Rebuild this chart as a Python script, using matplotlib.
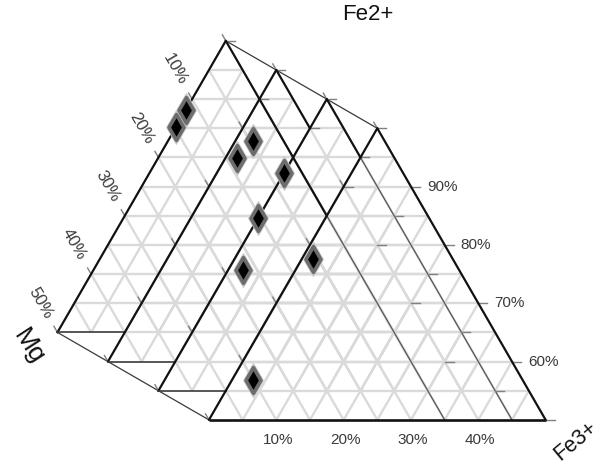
import numpy as np
import matplotlib
matplotlib.use("Agg")
import matplotlib.pyplot as plt
from matplotlib.path import Path

plt.rcParams["font.family"] = ["Liberation Sans", "DejaVu Sans"]

# Axis tick values (percent)
fe2_ticks = [90, 80, 70, 60]
fe3_ticks = [10, 20, 30, 40]
mg_ticks = [10, 20, 30, 40, 50]
n_layers = 4

# Samples: layer index and composition (Fe2+, Mg, Fe3+ in %)
pt_layer = [0, 0, 1, 1, 2, 2, 2, 3, 3]
pt_fe2 = [88.1, 85.2, 87.8, 84.9, 87.3, 79.6, 70.7, 77.6, 56.8]
pt_mg = [11.9, 14.8, 9.6, 13.4, 12.7, 20.4, 27.1, 20.8, 40.0]
pt_fe3 = [0.0, 0.0, 2.6, 1.7, 0.0, 0.0, 2.2, 1.6, 3.2]

# ---- geometry of the stacked ternary planes (pixel-like data units) ----
W, Hpx = 607, 465
FE2_MIN = 50.0                     # lower end of the Fe2+ axis
UNIT = 6.734                       # length of 1 % along a triangle side
SQ = np.sqrt(3) / 2
FRONT_APEX = np.array([377.3, 128.3])
STEP = 5 * UNIT
DEPTH = np.array([1.5 * STEP, SQ * STEP])   # shift between planes


def apex(k):
    return FRONT_APEX - (n_layers - 1 - k) * DEPTH


def tern(k, fe2, mg, fe3):
    ax_, ay_ = apex(k)
    x = ax_ + (np.asarray(fe3, float) - np.asarray(mg, float)) * UNIT / 2
    y = ay_ + (100 - np.asarray(fe2, float)) * UNIT * SQ
    return x, y


def intersect(p1, p2, q1, q2):
    p1, p2, q1, q2 = map(np.asarray, (p1, p2, q1, q2))
    d1, d2 = p2 - p1, q2 - q1
    den = d1[0] * d2[1] - d1[1] * d2[0]
    t = ((q1[0] - p1[0]) * d2[1] - (q1[1] - p1[1]) * d2[0]) / den
    return p1 + t * d1


fig = plt.figure(figsize=(W / 100, Hpx / 100), dpi=100)
ax = fig.add_axes([0, 0, 1, 1])
ax.set_xlim(0, W)
ax.set_ylim(Hpx, 0)
ax.axis("off")

GRID = dict(color="#dadada", lw=1.7, solid_capstyle="butt", zorder=1)
EDGE = dict(color="#111111", lw=1.6, solid_capstyle="round", zorder=4)
TICK = dict(color="#808080", lw=1.0, zorder=3)

span = 100 - FE2_MIN
# light grid, every 5 %
for k in range(n_layers):
    for v in np.arange(5, span, 5):
        segs = [
            ((100 - v, v, 0), (100 - v, 0, v)),
            ((100 - v, v, 0), (FE2_MIN, v, span - v)),
            ((100 - v, 0, v), (FE2_MIN, span - v, v)),
        ]
        for a, b in segs:
            xa, ya = tern(k, *a)
            xb, yb = tern(k, *b)
            ax.plot([xa, xb], [ya, yb], **GRID)


def left_edge(k):
    return [np.array(tern(k, 100, 0, 0)), np.array(tern(k, FE2_MIN, span, 0))]


# plane outlines
front = n_layers - 1
stop_at = {0: 3, 1: 2, 2: 3}        # plane whose left edge hides the right edge
faint_tail = {0: True, 1: False, 2: True}
for k in range(n_layers):
    top, bl = left_edge(k)
    ax.plot([top[0], bl[0]], [top[1], bl[1]], **EDGE)
    fe2_low = FE2_MIN - 5 * (front - k)           # level of the front base
    r_end = np.array(tern(k, fe2_low, 0, 100 - fe2_low))
    if k == front:
        br = np.array(tern(k, FE2_MIN, 0, span))
        ax.plot([top[0], br[0]], [top[1], br[1]], **EDGE)
        ax.plot([bl[0], br[0]], [bl[1], br[1]], color="#111111", lw=1.9,
                solid_capstyle="butt", zorder=4)
    else:
        cut = intersect(top, r_end, *left_edge(stop_at[k]))
        ax.plot([top[0], cut[0]], [top[1], cut[1]], **EDGE)
        if faint_tail[k]:
            ax.plot([cut[0], r_end[0]], [cut[1], r_end[1]], color="#555555",
                    lw=0.9, zorder=3)
        nxt = left_edge(k + 1)
        bcut = intersect(bl, bl + np.array([1.0, 0.0]), *nxt)
        ax.plot([bl[0], bcut[0]], [bl[1], bcut[1]], color="#3a3a3a", lw=1.2,
                zorder=4)

# depth lines joining the planes' apexes and left corners
a0, a3 = left_edge(0)[0], left_edge(front)[0]
b0, b3 = left_edge(0)[1], left_edge(front)[1]
ax.plot([a0[0], a3[0]], [a0[1], a3[1]], color="#3a3a3a", lw=0.9, zorder=3)
ax.plot([b0[0], b3[0]], [b0[1], b3[1]], color="#3a3a3a", lw=0.9, zorder=3)

# ticks on the Mg (left) edges
tdir = np.array([-0.5, -SQ]) * 7
for k in range(n_layers):
    for m in [0] + mg_ticks:
        x, y = tern(k, 100 - m, m, 0)
        ax.plot([x, x + tdir[0]], [y, y + tdir[1]], **TICK)

# ticks on the Fe2+ (right) edges
right_tick_low = {0: 90, 1: 40, 2: 50, 3: 50}
for k in range(n_layers):
    for f in np.arange(100, right_tick_low[k] - 1, -10):
        x, y = tern(k, f, 0, 100 - f)
        ax.plot([x, x + 9], [y, y], **TICK)

LABEL = dict(color="#3a3a3a", zorder=6)
for f in fe2_ticks:
    x, y = tern(front, f, 0, 100 - f)
    ax.text(x + 16, y, f"{f}%", ha="left", va="center", fontsize=11, **LABEL)
for c in fe3_ticks:
    x, y = tern(front, FE2_MIN, span - c, c)
    ax.text(x + 2, y + 20, f"{c}%", ha="center", va="center", fontsize=11,
            **LABEL)
for m in mg_ticks:
    x, y = tern(0, 100 - m, m, 0)
    off = np.array([-0.5, -SQ]) * 34
    ax.text(x + off[0], y + off[1], f"{m}%", ha="center", va="center",
            rotation=-60, rotation_mode="anchor", fontsize=12, **LABEL)

# axis titles
ax.text(368, 15, "Fe2+", ha="center", va="center", fontsize=16, color="#111111")
ax.text(29, 347, "Mg", ha="center", va="center", fontsize=19, rotation=-57,
        color="#111111")
ax.text(576, 441, "Fe3+", ha="center", va="center", fontsize=15.5, rotation=40,
        color="#111111")

# sample markers
diamond = Path([(0, 1), (0.58, 0), (0, -1), (-0.58, 0), (0, 1)],
               [Path.MOVETO, Path.LINETO, Path.LINETO, Path.LINETO,
                Path.CLOSEPOLY])
xs, ys = [], []
for k, f2, mg, f3 in zip(pt_layer, pt_fe2, pt_mg, pt_fe3):
    x, y = tern(k, f2, mg, f3)
    xs.append(float(x))
    ys.append(float(y))
ax.plot(xs, ys, ls="none", marker=diamond, ms=24, mfc="#a8a8a8",
        mec="#c8c8c8", mew=1.0, zorder=7)
ax.plot(xs, ys, ls="none", marker=diamond, ms=18.5, mfc="#000000",
        mec="#6c6c6c", mew=2.6, zorder=8)

fig.savefig("out.png", dpi=100)
